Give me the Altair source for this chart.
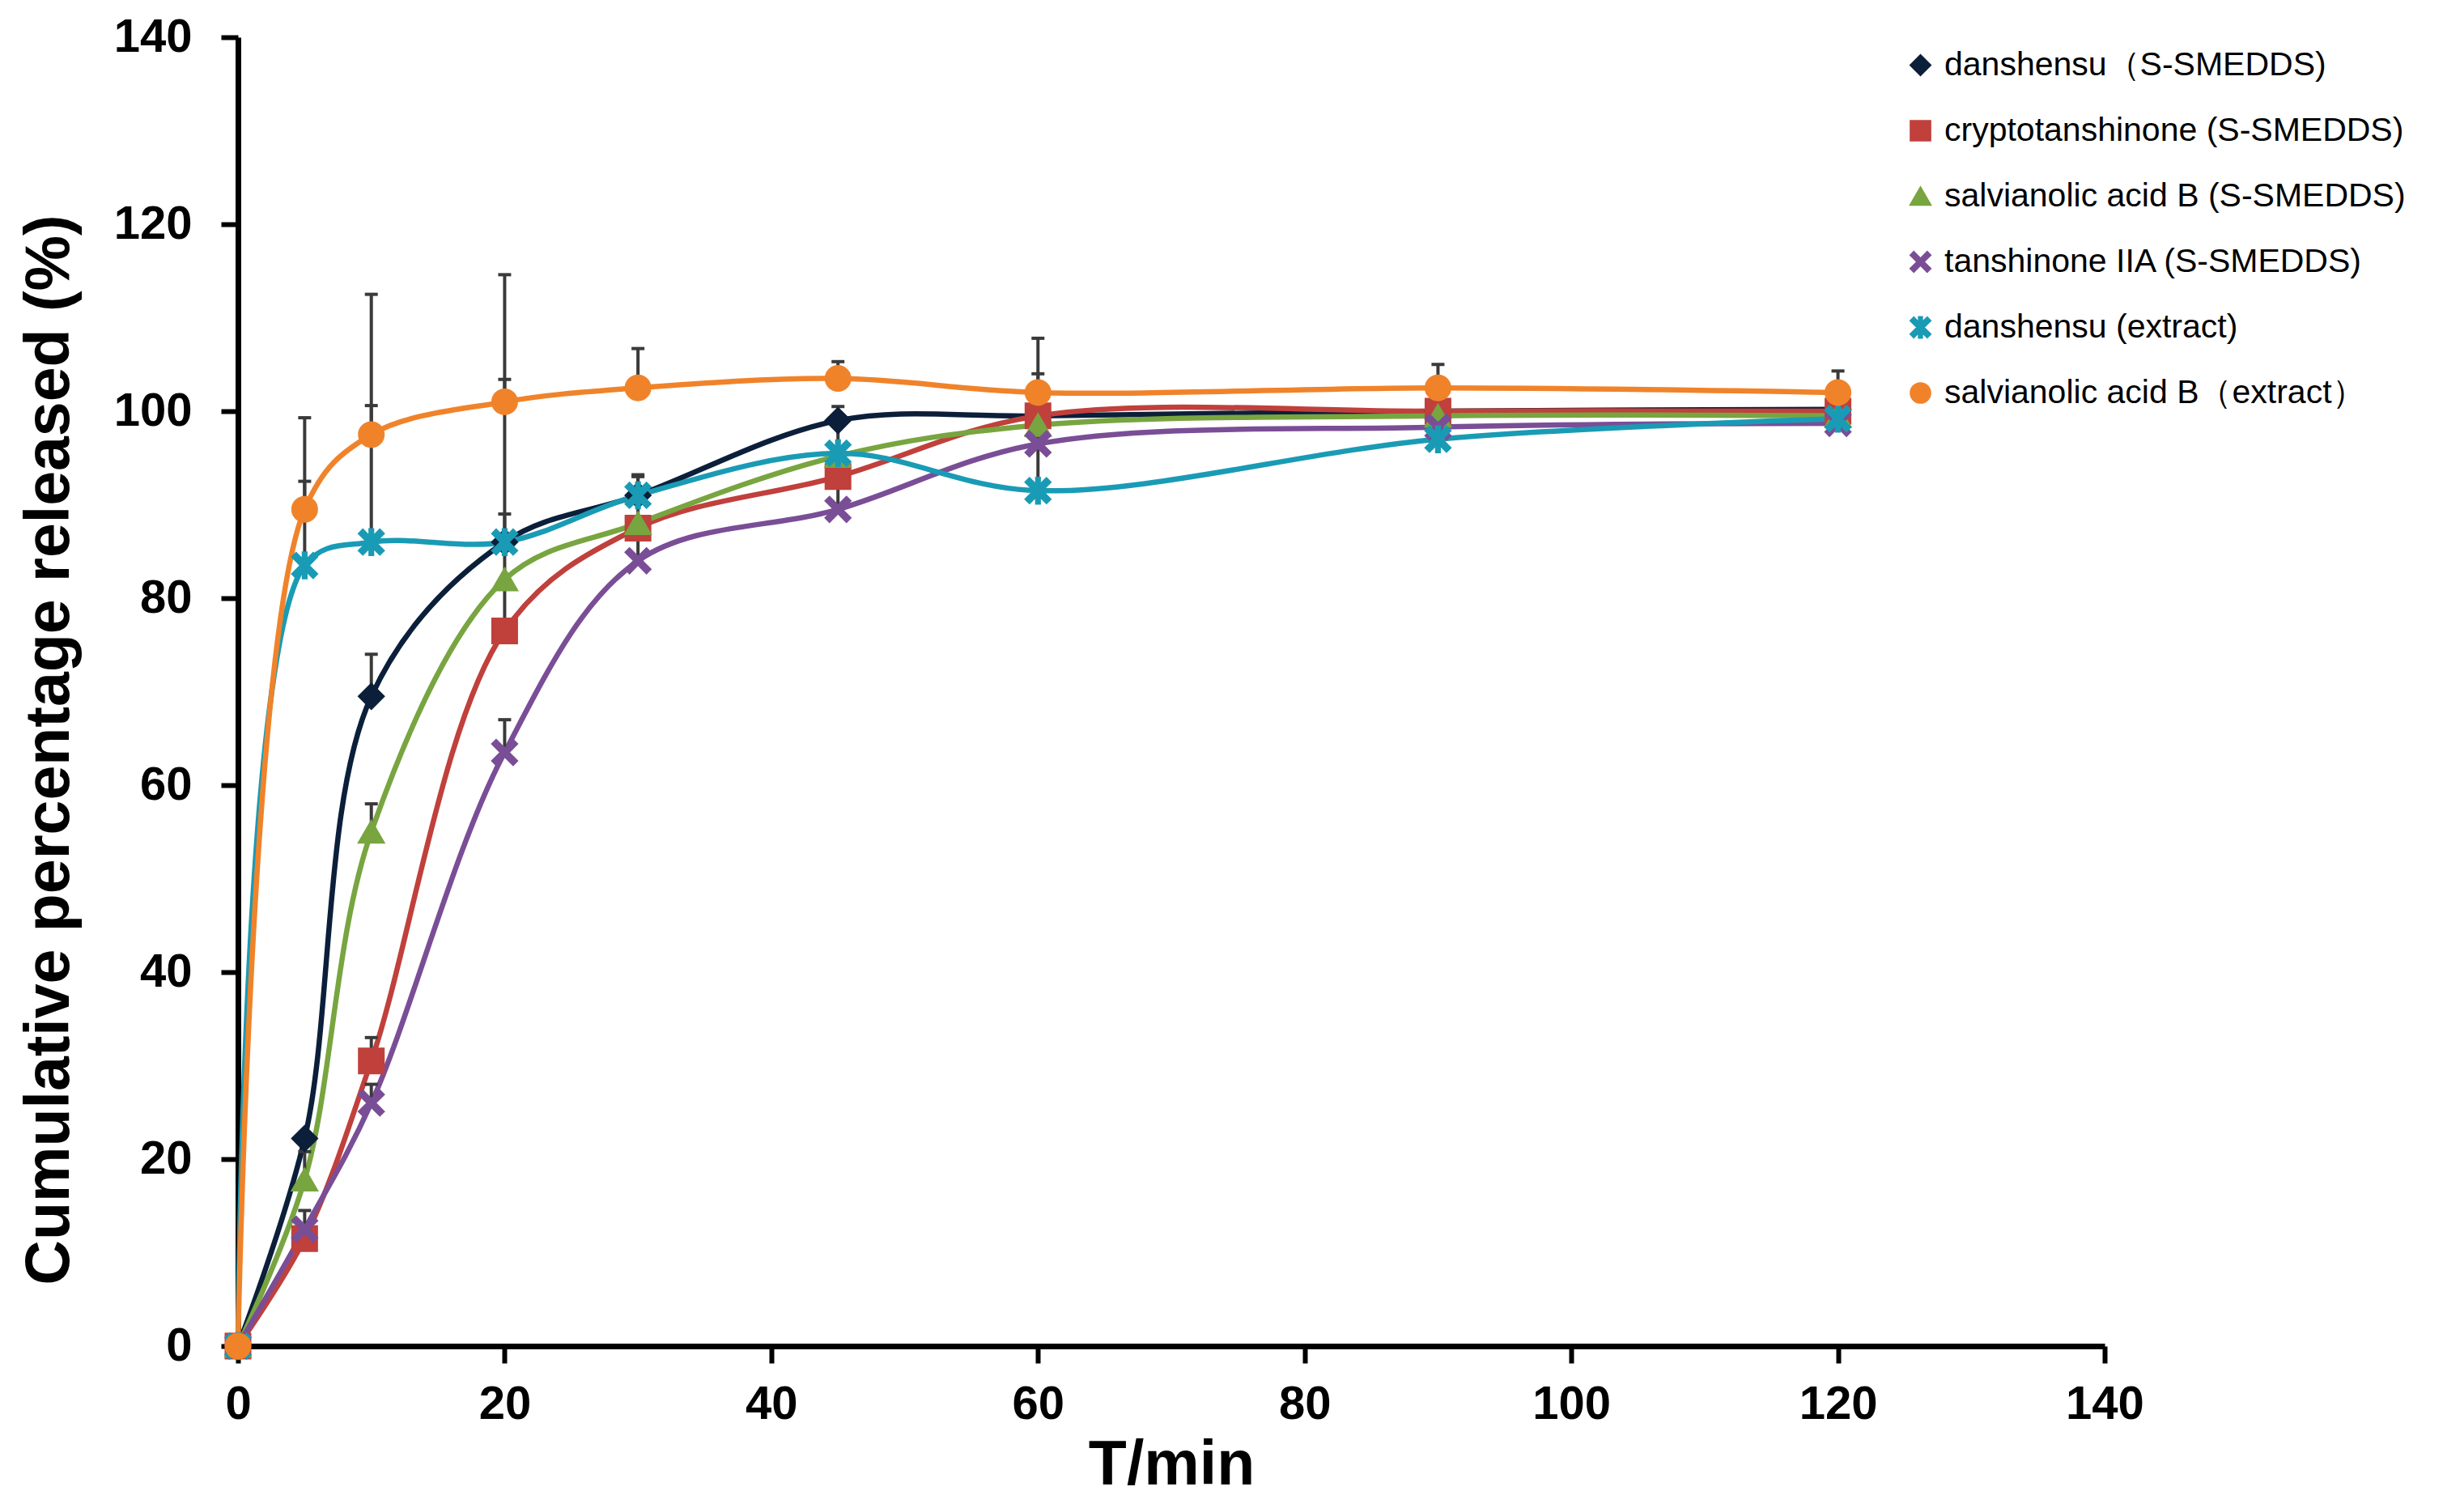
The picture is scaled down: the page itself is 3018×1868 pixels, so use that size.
import altair as alt
import pandas as pd

time_min = [0, 5, 10, 20, 30, 45, 60, 90, 120]

series_names = [
    "danshensu（S-SMEDDS)",
    "cryptotanshinone (S-SMEDDS)",
    "salvianolic acid B (S-SMEDDS)",
    "tanshinone IIA  (S-SMEDDS)",
    "danshensu  (extract)",
    "salvianolic acid B（extract）",
]

danshensu_smedds = [0, 22.2, 69.5, 86.0, 91.0, 99.0, 99.5, 100.0, 100.2]
crypto_smedds = [0, 11.5, 30.5, 76.5, 87.5, 93.0, 99.5, 100.0, 100.0]
salb_smedds = [0, 17.8, 55.0, 82.0, 88.0, 95.2, 98.5, 99.5, 99.5]
tanshinone_smedds = [0, 12.5, 26.0, 63.5, 84.0, 89.5, 96.5, 98.3, 98.7]
danshensu_extract = [0, 83.5, 86.0, 86.0, 91.0, 95.5, 91.5, 97.0, 99.2]
salb_extract = [0, 89.5, 97.5, 101.0, 102.5, 103.5, 102.0, 102.5, 102.0]

# upper error bars only (plus direction)
err_danshensu_smedds = [0, 0, 4.5, 0, 0, 1.5, 0, 0, 0]
err_crypto_smedds = [0, 0, 2.5, 12.5, 0, 0, 0, 0, 0]
err_salb_smedds = [0, 3.0, 3.0, 0, 0, 0, 0, 0, 0]
err_tanshinone_smedds = [0, 2.0, 2.0, 3.5, 9.0, 9.5, 0, 0, 0]
err_danshensu_extract = [0, 9.0, 14.6, 17.4, 2.2, 0, 12.5, 0, 0]
err_salb_extract = [0, 9.8, 15.0, 13.6, 4.2, 1.8, 5.8, 2.5, 2.3]

colors = ["#0b1f3a", "#c0403c", "#78a540", "#7a4e96", "#1a9bb5", "#f0832a"]

# filled X and X-with-bar (Excel "x" and "star" markers)
x_marker = (
    "M-1,-0.7L-0.7,-1L0,-0.3L0.7,-1L1,-0.7L0.3,0L1,0.7L0.7,1L0,0.3L-0.7,1L-1,0.7L-0.3,0Z"
)
star_marker = x_marker + "M-0.14,-1.05L0.14,-1.05L0.14,1.05L-0.14,1.05Z"
shapes = ["diamond", "square", "triangle-up", x_marker, star_marker, "circle"]

values = [danshensu_smedds, crypto_smedds, salb_smedds, tanshinone_smedds, danshensu_extract, salb_extract]
errors = [
    err_danshensu_smedds,
    err_crypto_smedds,
    err_salb_smedds,
    err_tanshinone_smedds,
    err_danshensu_extract,
    err_salb_extract,
]

rows = []
for name, vals, errs in zip(series_names, values, errors):
    for t, v, e in zip(time_min, vals, errs):
        rows.append({"series": name, "time": t, "value": v, "err": e, "top": v + e})
data = pd.DataFrame(rows)
err_data = data[data["err"] > 0]

font = "Liberation Sans"
x_enc = alt.X(
    "time:Q",
    scale=alt.Scale(domain=[0, 140]),
    axis=alt.Axis(title="T/min", values=list(range(0, 141, 20))),
)
y_enc = alt.Y(
    "value:Q",
    scale=alt.Scale(domain=[0, 140]),
    axis=alt.Axis(title="Cumulative percentage released (%)", values=list(range(0, 141, 20)), titleY=880),
)

legend = alt.Legend(
    title="",
    orient="none",
    legendX=2058,
    legendY=14,
    labelFont=font,
    labelFontSize=41,
    labelColor="#000000",
    labelOffset=9,
    rowPadding=39,
    symbolSize=560,
    symbolStrokeWidth=3,
    labelLimit=900,
)
color_scale = alt.Scale(domain=series_names, range=colors)

lines = (
    alt.Chart(data)
    .mark_line(interpolate="catmull-rom", strokeWidth=6.5)
    .encode(
        x=x_enc,
        y=y_enc,
        stroke=alt.Stroke("series:N", scale=color_scale, legend=legend),
        detail="series:N",
    )
)

err_bars = (
    alt.Chart(err_data)
    .mark_rule(color="#3a3a3a", strokeWidth=4)
    .encode(x="time:Q", y="value:Q", y2="top:Q")
)

err_caps = (
    alt.Chart(err_data)
    .mark_rule(color="#3a3a3a", strokeWidth=4, xOffset=-8, x2Offset=8)
    .encode(x="time:Q", x2="time:Q", y="top:Q")
)

points = (
    alt.Chart(data)
    .mark_point(size=900, strokeWidth=3, opacity=1, filled=True)
    .encode(
        x="time:Q",
        y="value:Q",
        fill=alt.Fill("series:N", scale=color_scale, legend=legend),
        stroke=alt.Stroke("series:N", scale=color_scale, legend=legend),
        shape=alt.Shape("series:N", scale=alt.Scale(domain=series_names, range=shapes), legend=legend),
    )
)

chart = (
    alt.layer(lines, err_bars, err_caps, points)
    .properties(
        width=2306,
        height=1617,
        autosize=alt.AutoSizeParams(type="none"),
        padding={"left": 286, "top": 38, "right": 410, "bottom": 190},
    )
    .configure_axis(
        labelFont=font,
        labelFontSize=58,
        labelFontWeight="bold",
        labelColor="#000000",
        labelFlush=False,
        titleFont=font,
        titleFontSize=77,
        titleFontWeight="bold",
        titleColor="#000000",
        domainColor="#000000",
        domainWidth=7,
        tickColor="#000000",
        tickWidth=6,
        tickSize=21,
        grid=False,
    )
    .configure_axisX(labelPadding=22, titlePadding=8)
    .configure_axisY(labelPadding=36, titlePadding=40)
    .configure_view(strokeWidth=0)
)

chart.save("out.html", embed_options={"renderer": "svg", "actions": False})
